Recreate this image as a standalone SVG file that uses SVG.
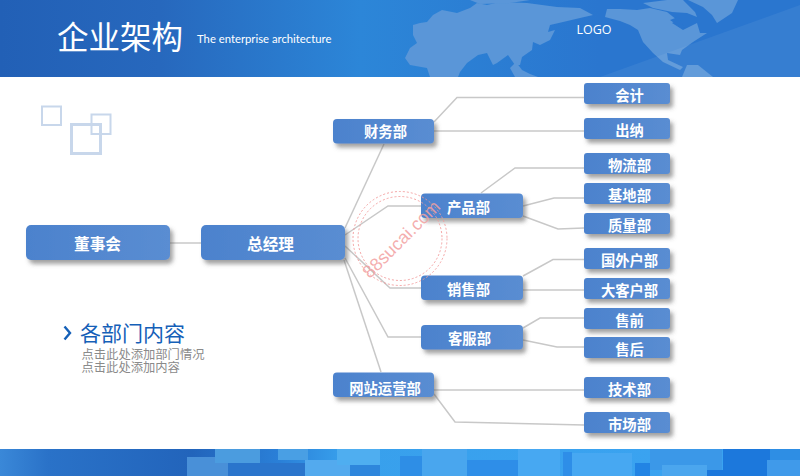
<svg xmlns="http://www.w3.org/2000/svg" width="800" height="476" viewBox="0 0 800 476">
<style>
.n{fill:url(#nodeFill);filter:url(#sh)}
.t{font-family:"Noto Sans CJK SC","Liberation Sans",sans-serif;font-weight:700;fill:#fff;text-anchor:middle;font-size:14.3px}
.b{font-size:15.7px}
.c{fill:none;stroke:#c8c8c8;stroke-width:1.5}
.sq{fill:none;stroke:#c8d7eb}
.map{fill:#5a96d8}
.st{fill:none;stroke:#f29a9a;stroke-dasharray:2 2;stroke-width:.9}
.sub{font-family:"Noto Sans CJK SC",sans-serif;font-size:12.3px;fill:#8a8a8a}
</style>
<defs>
<linearGradient id="nodeFill" x1="0" y1="0" x2="1" y2="0"><stop offset="0" stop-color="#4c82cd"/><stop offset="1" stop-color="#5a8dd2"/></linearGradient>
<linearGradient id="head" x1="0" y1="0" x2="1" y2="0"><stop offset="0" stop-color="#2260b6"/><stop offset=".2" stop-color="#2768bd"/><stop offset=".45" stop-color="#2c86d8"/><stop offset=".75" stop-color="#2a76cf"/><stop offset="1" stop-color="#2a76cf"/></linearGradient>
<linearGradient id="foot" x1="0" y1="0" x2="1" y2="0"><stop offset="0" stop-color="#3a88d8"/><stop offset=".06" stop-color="#2a72c8"/><stop offset=".24" stop-color="#2264bb"/><stop offset=".35" stop-color="#2a80d8"/><stop offset=".43" stop-color="#38a0ec"/><stop offset="1" stop-color="#3ba4f2"/></linearGradient>
<filter id="sh" x="-15%" y="-30%" width="130%" height="170%"><feDropShadow dx="3" dy="4" stdDeviation="2" flood-color="#555" flood-opacity=".55"/></filter>
<filter id="soft" x="0" y="0" width="100%" height="100%"><feGaussianBlur stdDeviation=".6"/></filter>
<clipPath id="hc"><rect width="800" height="77"/></clipPath>
<clipPath id="fc"><rect y="449" width="800" height="27"/></clipPath>
</defs>
<rect width="800" height="476" fill="#fff"/>
<g id="header" clip-path="url(#hc)">
<rect width="800" height="77" fill="url(#head)"/>
<g filter="url(#soft)">
<path class="map" d="M405 58L410 48L417 43L413 35L413 25L420 23L427 22L433 15L442 10L457 13L470 8L477 3L487 5L500 2L527 3L557 7L580 8L593 15L580 18L563 22L550 25L548 32L555 30L550 40L540 45L533 42L532 50L522 57L520 65L515 65L508 55L497 63L493 65L487 53L478 55L467 63L460 72L458 77L430 77L427 68L410 65Z"/>
<path class="map" d="M510 68L516 62L522 70L530 74L538 77L515 77Z"/>
<path class="map" d="M470 0H530L510 3L480 4Z"/>
<path class="map" d="M607 9H620L637 10L650 8L667 12L677 20L672 23L683 30L697 23L700 33L707 33L693 42L682 50L680 55L667 53L668 60L683 67L680 70L663 62L653 53L643 42L638 30L630 25L620 21L605 17Z"/>
<path d="M670 20L678 17L685 28L680 27Z" fill="#2a76cf"/>
<path class="map" d="M643 3L667 0H683L695 12L697 17L687 13L672 12L653 8Z"/>
<path class="map" d="M688 0H738L732 13L717 23L712 15L703 7Z"/>
<path class="map" d="M682 77L687 65L698 65L713 77Z"/>
</g>
<path d="M600 77L800 5V77Z" fill="#fff" opacity=".06"/>
</g>
<g id="footer" clip-path="url(#fc)">
<rect y="449" width="800" height="27" fill="url(#foot)"/>
<g filter="url(#soft)">
<rect x="187" y="457" width="41" height="19" fill="#4a90d8"/>
<rect x="215" y="449" width="45" height="14" fill="#4c9cdf"/>
<rect x="228" y="463" width="77" height="13" fill="#2a74cc"/>
<rect x="278" y="449" width="30" height="11" fill="#4a9fe4"/>
<rect x="305" y="460" width="45" height="16" fill="#52aaee"/>
<rect x="337" y="449" width="43" height="16" fill="#50aef0"/>
<rect x="350" y="465" width="30" height="11" fill="#2f86dc"/>
<rect x="400" y="456" width="22" height="20" fill="#2f8ee6"/>
<rect x="422" y="449" width="45" height="27" fill="#49a6ee"/>
<rect x="467" y="460" width="51" height="16" fill="#2e8ee8"/>
<rect x="518" y="449" width="42" height="27" fill="#46a8f2"/>
<rect x="563" y="452" width="9" height="24" fill="#2e8ee8"/>
<rect x="572" y="453" width="60" height="23" fill="#46a8f2"/>
<rect x="635" y="463" width="15" height="13" fill="#2384e4"/>
<rect x="650" y="449" width="72" height="21" fill="#3b98e8"/>
<rect x="662" y="465" width="45" height="11" fill="#4ba6ee"/>
<rect x="707" y="470" width="60" height="6" fill="#1c78dc"/>
<rect x="723" y="449" width="47" height="21" fill="#1c78dc"/>
<rect x="770" y="449" width="30" height="11" fill="#2f8ee4"/>
<rect x="767" y="460" width="33" height="16" fill="#3f9aea"/>
</g>
</g>
<g id="title">
<text x="57" y="49" font-family="'Noto Sans CJK SC',sans-serif" font-weight="400" font-size="31.5" fill="#fff">企业架构</text>
<text x="197" y="42.500" font-family="Lato,sans-serif" font-size="11.300" fill="#fff">The enterprise architecture</text>
<text x="576.500" y="34" font-family="'Open Sans',sans-serif" font-size="12.500" fill="#fff">LOGO</text>
</g>
<g id="deco">
<rect class="sq" x="42" y="106.500" width="19" height="18.500" stroke-width="2"/>
<rect class="sq" x="91.500" y="114.500" width="19" height="19.500" stroke-width="2"/>
<rect class="sq" x="71.500" y="124.500" width="29" height="29" stroke-width="3"/>
</g>
<g id="connectors">
<path class="c" d="M170 243H201"/>
<path class="c" d="M345 228L384 144"/>
<path class="c" d="M345 235L388 206H421"/>
<path class="c" d="M345 246L390 288H421"/>
<path class="c" d="M345 258L388 337H421"/>
<path class="c" d="M344 260L381 372"/>
<path class="c" d="M434 122L457 97.500H584"/>
<path class="c" d="M434 131H584"/>
<path class="c" d="M481 193L515 168H584"/>
<path class="c" d="M523 206L554 198H584"/>
<path class="c" d="M523 216L558 229L584 228"/>
<path class="c" d="M523 276L553 259.500H584"/>
<path class="c" d="M523 290H584"/>
<path class="c" d="M523 328L540 318H584"/>
<path class="c" d="M523 340L557 347H584"/>
<path class="c" d="M434 390H584"/>
<path class="c" d="M434 394L455 422L584 425"/>
</g>
<g id="n-board"><rect class="n" x="26" y="225" width="144" height="35" rx="5"/><text class="t b" x="97.500" y="250">董事会</text></g>
<g id="n-gm"><rect class="n" x="201" y="225" width="144" height="35" rx="5"/><text class="t b" x="270.500" y="250">总经理</text></g>
<g id="n-fin"><rect class="n" x="333" y="119" width="101" height="24.500" rx="4"/><text class="t" x="385.500" y="136.500">财务部</text></g>
<g id="n-prod"><rect class="n" x="421" y="193.500" width="102" height="24.500" rx="4"/><text class="t" x="468.500" y="212.500">产品部</text></g>
<g id="n-sales"><rect class="n" x="421" y="275.500" width="102" height="24.500" rx="4"/><text class="t" x="468.500" y="295">销售部</text></g>
<g id="n-svc"><rect class="n" x="421" y="325" width="102" height="24.500" rx="4"/><text class="t" x="469.500" y="344">客服部</text></g>
<g id="n-web"><rect class="n" x="333" y="372.500" width="101" height="24.500" rx="4"/><text class="t" x="385" y="393.500">网站运营部</text></g>
<g id="l1"><rect class="n" x="584" y="83" width="86" height="21" rx="3"/><text class="t" x="629.500" y="101">会计</text></g>
<g id="l2"><rect class="n" x="584" y="118" width="86" height="21" rx="3"/><text class="t" x="629.500" y="136">出纳</text></g>
<g id="l3"><rect class="n" x="584" y="153" width="86" height="21" rx="3"/><text class="t" x="629.500" y="170.500">物流部</text></g>
<g id="l4"><rect class="n" x="584" y="183" width="86" height="21" rx="3"/><text class="t" x="629.500" y="200.500">基地部</text></g>
<g id="l5"><rect class="n" x="584" y="213" width="86" height="21" rx="3"/><text class="t" x="629.500" y="231">质量部</text></g>
<g id="l6"><rect class="n" x="584" y="248" width="86" height="21" rx="3"/><text class="t" x="629.500" y="266">国外户部</text></g>
<g id="l7"><rect class="n" x="584" y="278" width="86" height="21" rx="3"/><text class="t" x="629.500" y="296">大客户部</text></g>
<g id="l8"><rect class="n" x="584" y="308" width="86" height="21" rx="3"/><text class="t" x="629.500" y="326">售前</text></g>
<g id="l9"><rect class="n" x="584" y="337" width="86" height="21" rx="3"/><text class="t" x="629.500" y="355">售后</text></g>
<g id="l10"><rect class="n" x="584" y="377" width="86" height="21" rx="3"/><text class="t" x="629.500" y="395">技术部</text></g>
<g id="l11"><rect class="n" x="584" y="412" width="86" height="21" rx="3"/><text class="t" x="629.500" y="430">市场部</text></g>
<g id="note">
<path d="M64.500 326.500L70 333L64.500 339.500" fill="none" stroke="#1560b8" stroke-width="2.400"/>
<text x="80" y="341" font-family="'Noto Sans CJK SC',sans-serif" font-size="21" fill="#1560b8">各部门内容</text>
<text class="sub"><tspan x="81.500" y="359">点击此处添加部门情况</tspan><tspan x="81.500" y="372">点击此处添加内容</tspan></text>
</g>
<g id="stamp">
<circle class="st" cx="400" cy="238.500" r="47"/>
<circle class="st" cx="400" cy="238.500" r="42"/>
<text x="402" y="245" transform="rotate(-45 402 240)" text-anchor="middle" font-family="'Liberation Sans',sans-serif" font-size="18" fill="#f2a0a0" fill-opacity=".85">88sucai.com</text>
</g>
</svg>
